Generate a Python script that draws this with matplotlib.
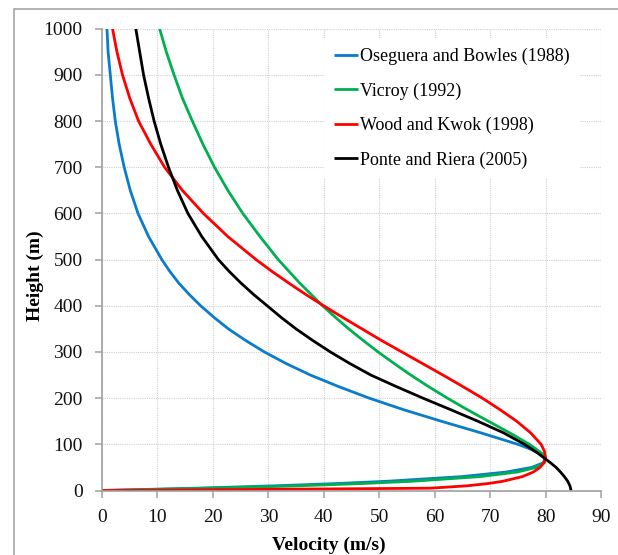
import matplotlib
matplotlib.use('Agg')
import matplotlib.pyplot as plt
from matplotlib.patches import Rectangle

plt.rcParams['font.family'] = ['Liberation Serif', 'DejaVu Serif']

# ---- data ----
h_ob = [0, 5, 10, 15, 20, 30, 40, 50, 60, 70, 80, 90, 100, 125, 150, 175, 200, 225, 250,
        275, 300, 325, 350, 375, 400, 425, 450, 475, 500, 550, 600, 650, 700, 750, 800,
        850, 900, 950, 1000]
v_ob = [0, 16.9, 30.8, 42.2, 51.4, 64.8, 72.9, 77.5, 79.6, 79.9, 78.9, 77.2, 75.0, 68.3,
        61.2, 54.4, 48.2, 42.7, 37.6, 33.2, 29.3, 25.9, 22.8, 20.2, 17.8, 15.7, 13.8, 12.2,
        10.8, 8.4, 6.5, 5.1, 4.0, 3.1, 2.4, 1.9, 1.5, 1.1, 0.9]

h_vi = [0, 5, 10, 15, 20, 30, 40, 50, 60, 70, 80, 100, 125, 150, 175, 200, 225, 250,
        275, 300, 325, 350, 375, 400, 425, 450, 475, 500, 550, 600, 650, 700, 750, 800,
        850, 900, 950, 1000]
v_vi = [0, 19.7, 35.0, 46.8, 55.9, 68.1, 74.9, 78.3, 79.8, 80.0, 79.4, 77.1, 73.5, 69.7,
        65.9, 62.3, 58.9, 55.7, 52.7, 49.8, 47.1, 44.5, 42.1, 39.8, 37.7, 35.6, 33.7, 31.8,
        28.5, 25.4, 22.7, 20.3, 18.2, 16.3, 14.5, 13.0, 11.6, 10.4]

h_wk = [0, 5, 10, 15, 20, 30, 40, 50, 60, 72, 85, 100, 125, 150, 175, 200, 225, 250,
        275, 300, 325, 350, 375, 400, 425, 450, 475, 500, 550, 600, 650, 700, 750, 800,
        850, 900, 950, 1000]
v_wk = [0, 59.2, 65.7, 69.6, 72.3, 75.8, 77.8, 79.0, 79.7, 80.0, 79.8, 79.2, 77.3, 74.8,
        71.8, 68.6, 65.1, 61.5, 57.8, 54.1, 50.4, 46.9, 43.4, 40.0, 36.7, 33.6, 30.6, 27.8,
        22.7, 18.3, 14.5, 11.3, 8.8, 6.6, 5.0, 3.7, 2.7, 1.9]

h_pr = [0, 10, 20, 30, 40, 50, 60, 70, 80, 90, 100, 125, 150, 175, 200, 225, 250, 275,
        300, 325, 350, 375, 400, 425, 450, 475, 500, 550, 600, 650, 700, 750, 800, 850,
        900, 950, 1000]
v_pr = [84.6, 84.4, 84.0, 83.4, 82.7, 81.9, 80.9, 79.8, 78.7, 77.5, 76.2, 72.4, 67.8,
        62.9, 57.9, 53.1, 48.5, 44.7, 41.2, 38.0, 35.0, 32.3, 29.8, 27.3, 25.0, 22.9,
        21.0, 18.0, 15.5, 13.6, 12.0, 10.6, 9.4, 8.4, 7.5, 6.8, 6.1]

series_labels = ['Oseguera and Bowles (1988)', 'Vicroy (1992)',
                 'Wood and Kwok (1998)', 'Ponte and Riera (2005)']
series_colors = ['#0a7ccc', '#00b050', '#ff0000', '#000000']

x_ticks = list(range(0, 91, 10))
y_ticks = list(range(0, 1001, 100))

W, H = 618, 555
fig = plt.figure(figsize=(W / 100, H / 100), dpi=100)

# outer frame
fig.add_artist(Rectangle((14 / W, -0.1), 1.0, 1 - 9 / H + 0.1, transform=fig.transFigure,
                         fill=False, edgecolor='#a6a6a6', lw=1.2))

ax = fig.add_axes([102 / W, 1 - 490.5 / H, 499 / W, 461.7 / H])

for h, v, lab, col in zip([h_ob, h_vi, h_wk, h_pr], [v_ob, v_vi, v_wk, v_pr],
                          series_labels, series_colors):
    ax.plot(v, h, color=col, lw=2.0, label=lab, solid_capstyle='butt',
            solid_joinstyle='round')

ax.set_xlim(0, 90)
ax.set_ylim(0, 1000)
ax.set_xticks(x_ticks)
ax.set_yticks(y_ticks)
ax.grid(True, color='#d0d0d0', linestyle=(0, (1, 1)), linewidth=0.8)
ax.set_axisbelow(True)
for s in ['top', 'right']:
    ax.spines[s].set_visible(False)
for s in ['left', 'bottom']:
    ax.spines[s].set_color('#a0a0a0')
    ax.spines[s].set_linewidth(1.2)
ax.tick_params(axis='both', direction='out', length=5, width=1.1, color='#a0a0a0',
               labelsize=14, labelcolor='#111111')
ax.tick_params(axis='y', pad=9)
ax.tick_params(axis='x', pad=8)

ax.legend(loc='upper left', bbox_to_anchor=(324 / W, 1 - 38 / H), bbox_transform=fig.transFigure,
          frameon=True, facecolor='white', edgecolor='none', framealpha=1, fancybox=False,
          fontsize=13, handlelength=1.35, handletextpad=0.1, labelspacing=0.95,
          borderpad=0.55, borderaxespad=0)

fig.text(329 / W, 1 - 550 / H, 'Velocity (m/s)', ha='center', va='baseline',
         fontsize=14, fontweight='bold')
fig.text(35 / W, 1 - 276 / H, 'Height (m)', ha='center', va='center', rotation=90,
         fontsize=14, fontweight='bold')

fig.savefig('out.png', dpi=100)
